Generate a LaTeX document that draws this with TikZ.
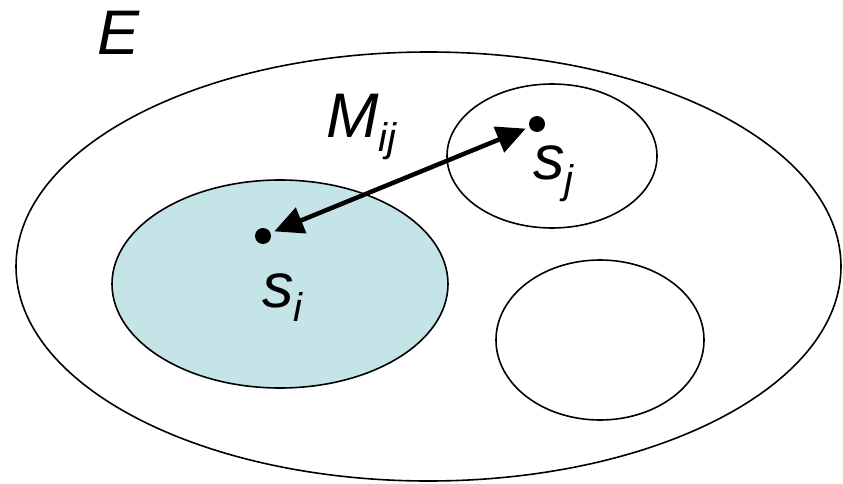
\documentclass[tikz,border=0pt]{standalone}
\usepackage{fontspec}
\setmainfont{Liberation Sans}
\usetikzlibrary{arrows.meta}
\definecolor{lightblue}{RGB}{197,228,232}
\newcommand\subtxt[2]{#1\raisebox{-14pt}{\fontsize{40}{40}\selectfont #2}}
\begin{document}
\begin{tikzpicture}[x=1pt,y=-1pt, line join=round]
\useasboundingbox (0,0) rectangle (843,484);
\tikzset{
 region/.style={draw=black, line width=1.6pt},
 dotnode/.style={circle, fill=black, inner sep=0pt, minimum size=16pt},
 lbl/.style={inner sep=0pt, anchor=base west, font=\fontsize{63}{63}\selectfont\itshape},
 link/.style={line width=4.5pt, {Triangle[length=29pt,width=27pt]}-{Triangle[length=29pt,width=27pt]}, shorten <=4pt, shorten >=4pt}
}
\draw[region] (428.5,266.5) ellipse [x radius=412.5, y radius=214.5];
\draw[region, fill=lightblue] (280,284) ellipse [x radius=168, y radius=104];
\draw[region] (552,156) ellipse [x radius=105, y radius=72];
\draw[region] (600,340) ellipse [x radius=104, y radius=80];
\node[dotnode] (si) at (263,236) {};
\node[dotnode] (sj) at (537,124) {};
\draw[link] (si) -- (sj);
\node[lbl] (E) at (97,55) {E};
\node[lbl] (M) at (326,138) {\subtxt{M}{ij}};
\node[lbl] (silbl) at (262,307) {\subtxt{s}{i}};
\node[lbl] (sjlbl) at (533,179) {\subtxt{s}{j}};
\end{tikzpicture}
\end{document}
